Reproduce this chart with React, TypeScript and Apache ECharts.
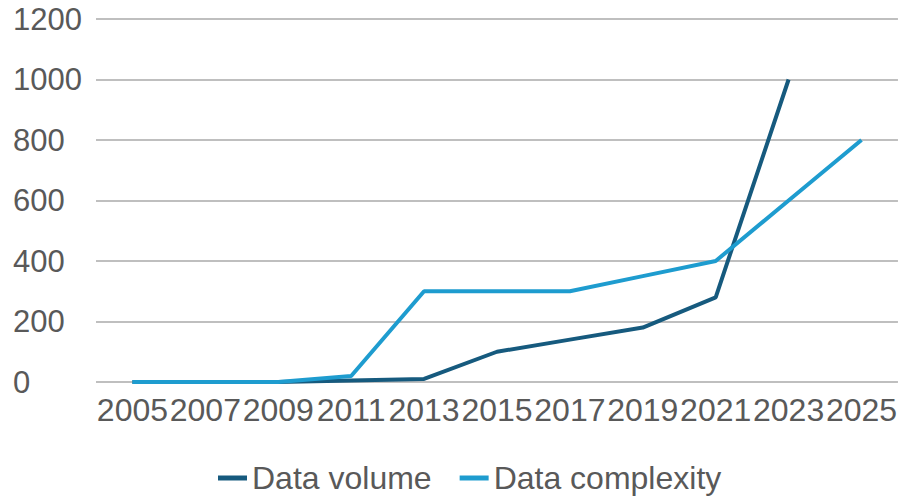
import React, { useEffect, useRef } from "react";
import * as echarts from "echarts";

const years = ["2005", "2007", "2009", "2011", "2013", "2015", "2017", "2019", "2021", "2023", "2025"];
const dataVolume = [0, 0, 0, 5, 10, 100, 140, 180, 280, 1000, null];
const dataComplexity = [0, 0, 0, 20, 300, 300, 300, 350, 400, 600, 800];
const seriesNames = ["Data volume", "Data complexity"];

export default function App() {
  const ref = useRef<HTMLDivElement>(null);
  useEffect(() => {
    const chart = echarts.init(ref.current!, null, { renderer: "svg" });
    const font = "Liberation Sans, Arial, sans-serif";
    chart.setOption({
      animation: false,
      grid: { left: 96, right: 0, top: 19, bottom: 115 },
      legend: {
        bottom: -2,
        left: 213,
        itemWidth: 29,
        itemHeight: 5,
        itemGap: 28,
        icon: "rect",
        textStyle: { fontFamily: font, fontSize: 32, color: "#595959", padding: [0, 0, 0, 0] },
        data: seriesNames,
      },
      xAxis: {
        type: "category",
        data: years,
        boundaryGap: true,
        axisLine: { show: false },
        axisTick: { show: false },
        axisLabel: { fontFamily: font, fontSize: 32, color: "#595959", margin: 12, interval: 0 },
      },
      yAxis: {
        type: "value",
        min: 0,
        max: 1200,
        interval: 200,
        axisLine: { show: false },
        axisTick: { show: false },
        axisLabel: {
          fontFamily: font,
          fontSize: 31,
          color: "#595959",
          align: "left",
          margin: 83,
          formatter: (v: number) => String(v),
        },
        splitLine: { lineStyle: { color: "#BFBFBF", width: 2 } },
      },
      series: [
        {
          name: seriesNames[0],
          type: "line",
          data: dataVolume,
          symbol: "none",
          lineStyle: { width: 4, color: "#165A7E" },
          itemStyle: { color: "#165A7E" },
        },
        {
          name: seriesNames[1],
          type: "line",
          data: dataComplexity,
          symbol: "none",
          lineStyle: { width: 4, color: "#1E9CCF" },
          itemStyle: { color: "#1E9CCF" },
        },
      ],
    });
    return () => chart.dispose();
  }, []);
  return <div ref={ref} style={{ width: 900, height: 497, position: "absolute", left: 0, top: 0 }} />;
}
